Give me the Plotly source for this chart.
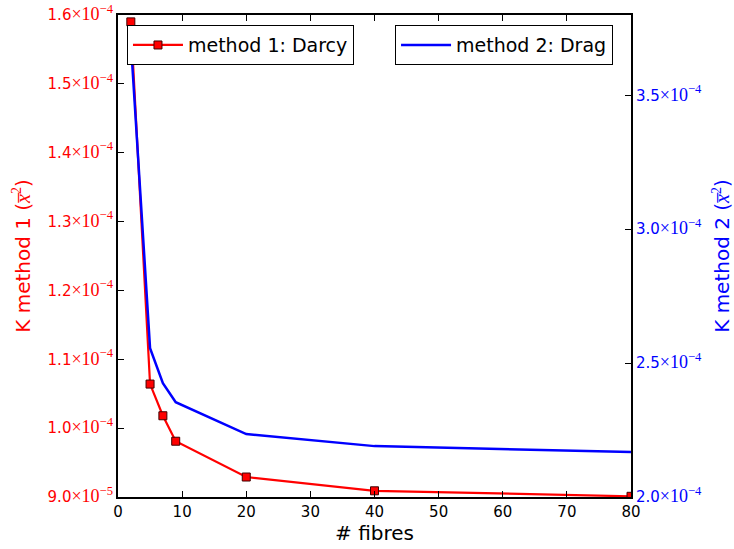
import plotly.graph_objects as go

# --- Data -------------------------------------------------------------------
fibres = [2, 5, 7, 9, 20, 40, 80]
k_darcy = [1.59e-4, 1.064e-4, 1.018e-4, 9.81e-5, 9.29e-5, 9.09e-5, 9.01e-5]
k_drag = [3.70e-4, 2.556e-4, 2.425e-4, 2.354e-4, 2.235e-4, 2.19e-4, 2.168e-4]

left_tick_vals = [9.0e-5, 1.0e-4, 1.1e-4, 1.2e-4, 1.3e-4, 1.4e-4, 1.5e-4, 1.6e-4]
left_tick_mant = ['9.0', '1.0', '1.1', '1.2', '1.3', '1.4', '1.5', '1.6']
left_tick_exp = ['−5', '−4', '−4', '−4', '−4', '−4', '−4', '−4']

right_tick_vals = [2.0e-4, 2.5e-4, 3.0e-4, 3.5e-4]
right_tick_mant = ['2.0', '2.5', '3.0', '3.5']
right_tick_exp = ['−4', '−4', '−4', '−4']

SERIF = "Liberation Serif"
SANS = "DejaVu Sans"


def sci_label(mant, exp):
    return (f"{mant}<span style='font-family:{SERIF};font-size:18px'>×10"
            f"<sup>{exp}</sup></span>")


# --- Figure -----------------------------------------------------------------
fig = go.Figure()

fig.add_trace(go.Scatter(
    x=fibres, y=k_darcy, mode='lines+markers', name='method 1: Darcy',
    line=dict(color='#ff0000', width=2.2),
    marker=dict(symbol='square', size=8, color='#ff0000',
                line=dict(color='#400000', width=1)),
    legend='legend', yaxis='y', showlegend=True))

fig.add_trace(go.Scatter(
    x=fibres, y=k_drag, mode='lines', name='method 2: Drag',
    line=dict(color='#0000ff', width=2.5),
    legend='legend2', yaxis='y2', showlegend=True))

title_left = f"K method 1 (<span style='font-family:{SERIF}'><i>x̅</i><sup>2</sup></span>)"
title_right = f"K method 2 (<span style='font-family:{SERIF}'><i>x̅</i><sup>2</sup></span>)"

fig.update_layout(
    width=734, height=549,
    margin=dict(l=118, r=103, t=15, b=52, autoexpand=False),
    paper_bgcolor='white', plot_bgcolor='white',
    font=dict(family=SANS, size=15, color='black'),
    showlegend=True,
    xaxis=dict(
        range=[0, 80], dtick=10, tick0=0,
        ticks='inside', ticklen=6, tickwidth=1, tickcolor='black',
        showline=True, linecolor='black', linewidth=2, mirror='ticks',
        showgrid=False, zeroline=False, automargin=False,
        tickfont=dict(size=15, color='black'),
        title=dict(text='# fibres', font=dict(size=20), standoff=6),
    ),
    yaxis=dict(
        range=[9.0e-5, 1.6e-4],
        tickvals=left_tick_vals,
        ticktext=[sci_label(m, e) for m, e in zip(left_tick_mant, left_tick_exp)],
        ticks='inside', ticklen=6, tickcolor='black',
        showline=True, linecolor='black', linewidth=2,
        showgrid=False, zeroline=False, automargin=False,
        ticklabeloverflow='allow',
        tickfont=dict(size=15, color='#ff0000'),
        title=dict(text=title_left, font=dict(size=20, color='#ff0000'), standoff=12),
    ),
    yaxis2=dict(
        range=[2.0e-4, 3.8e-4], overlaying='y', side='right',
        tickvals=right_tick_vals,
        ticktext=[sci_label(m, e) for m, e in zip(right_tick_mant, right_tick_exp)],
        ticks='inside', ticklen=6, tickcolor='black',
        showline=True, linecolor='black', linewidth=2,
        showgrid=False, zeroline=False, automargin=False,
        ticklabeloverflow='allow',
        tickfont=dict(size=15, color='#0000ff'),
        title=dict(text=title_right, font=dict(size=20, color='#0000ff'), standoff=17),
    ),
    legend=dict(
        x=0.0175, y=0.979, xanchor='left', yanchor='top',
        bgcolor='white', bordercolor='black', borderwidth=1,
        font=dict(size=19), itemwidth=50,
    ),
    legend2=dict(
        x=0.965, y=0.979, xanchor='right', yanchor='top',
        bgcolor='white', bordercolor='black', borderwidth=1,
        font=dict(size=19), itemwidth=50,
    ),
)

# drop the default 8px body margin so the figure sits at the page corner
fig.write_html("out.html", config={'displayModeBar': False},
               post_script="document.body.style.margin='0';")
